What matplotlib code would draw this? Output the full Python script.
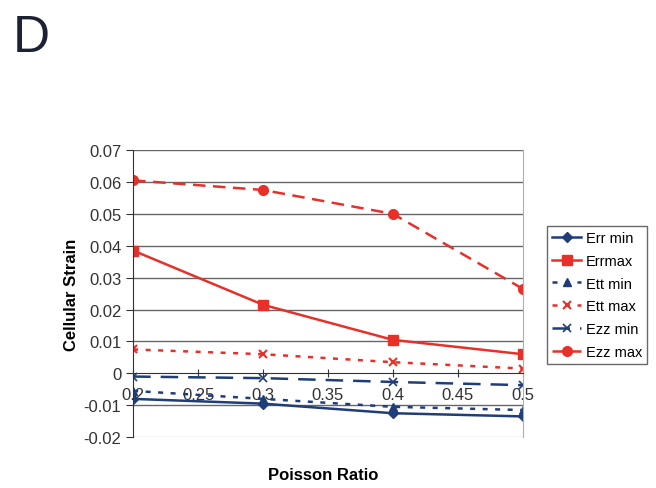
import matplotlib.pyplot as plt

plt.rcParams['font.family'] = ['Liberation Sans', 'DejaVu Sans']

poisson = [0.2, 0.3, 0.4, 0.5]
err_min = [-0.008, -0.0095, -0.0125, -0.0135]
err_max = [0.0385, 0.0215, 0.0105, 0.006]
ett_min = [-0.0055, -0.008, -0.0105, -0.0115]
ett_max = [0.0075, 0.006, 0.0035, 0.0015]
ezz_min = [-0.001, -0.0015, -0.0027, -0.0037]
ezz_max = [0.0605, 0.0575, 0.050, 0.0265]

navy = '#1f3d78'
red = '#e8302a'

fig = plt.figure(figsize=(6.56, 4.89), dpi=100)
ax = fig.add_axes([0.203, 0.104, 0.594, 0.587])

ax.plot(poisson, err_min, color=navy, lw=1.8, marker='D', ms=5, label='Err min')
ax.plot(poisson, err_max, color=red, lw=1.8, marker='s', ms=6.5, label='Errmax')
ax.plot(poisson, ett_min, color=navy, lw=1.8, ls=(0, (2, 3)), marker='^', ms=5.5, label='Ett min')
ax.plot(poisson, ett_max, color=red, lw=1.8, ls=(0, (2, 3)), marker='x', ms=6, mew=1.5, label='Ett max')
ax.plot(poisson, ezz_min, color=navy, lw=1.8, ls=(0, (7, 4)), marker='x', ms=6, mew=1.2, label='Ezz min')
ax.plot(poisson, ezz_max, color=red, lw=1.8, ls=(0, (5, 3)), marker='o', ms=7, label='Ezz max')

ax.set_xlim(0.2, 0.5)
ax.set_ylim(-0.02, 0.07)
ax.set_xticks([0.2, 0.25, 0.3, 0.35, 0.4, 0.45, 0.5])
ax.set_xticklabels(['0.2', '0.25', '0.3', '0.35', '0.4', '0.45', '0.5'])
ax.set_yticks([-0.02, -0.01, 0, 0.01, 0.02, 0.03, 0.04, 0.05, 0.06, 0.07])
ax.set_yticklabels(['-0.02', '-0.01', '0', '0.01', '0.02', '0.03', '0.04', '0.05', '0.06', '0.07'])
for y in [-0.01, 0.01, 0.02, 0.03, 0.04, 0.05, 0.06, 0.07]:
    ax.axhline(y, color='#666666', lw=1, zorder=0)

ax.spines['bottom'].set_position(('data', 0))
ax.spines['top'].set_visible(False)
ax.spines['right'].set_color('#b0b0b0')
ax.spines['left'].set_color('#333333')
ax.spines['bottom'].set_color('#333333')
ax.axhline(-0.02, color='#c8c8c8', lw=1, zorder=0)
ax.tick_params(axis='x', direction='inout', length=6, labelsize=12, colors='#333333', pad=7)
ax.tick_params(axis='y', direction='out', length=5, labelsize=12, colors='#333333')

ax.set_ylabel('Cellular Strain', fontsize=12, fontweight='bold', labelpad=3)
fig.text(0.493, 0.027, 'Poisson Ratio', fontsize=12, fontweight='bold', ha='center', va='center')

fig.text(0.02, 0.922, 'D', fontsize=37, ha='left', va='center', color='#1c2233')

fig.legend(loc='upper left', bbox_to_anchor=(0.834, 0.536), frameon=True, fancybox=False,
           edgecolor='#444444', fontsize=10.5, handlelength=2.0, labelspacing=0.6,
           borderpad=0.35, handletextpad=0.3, borderaxespad=0, numpoints=1)

fig.savefig('out.png', dpi=100)
